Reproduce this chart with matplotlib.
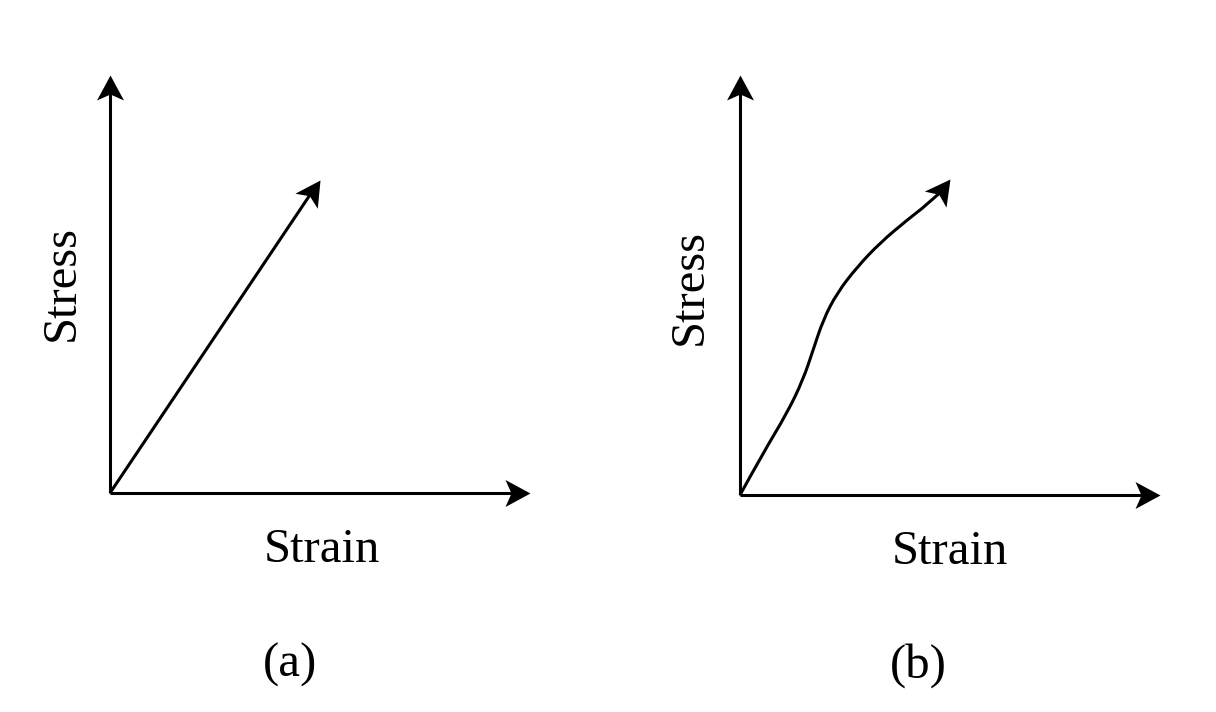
import numpy as np
import matplotlib.pyplot as plt
from matplotlib.path import Path
from matplotlib.patches import PathPatch
from matplotlib.markers import MarkerStyle
from matplotlib.transforms import Affine2D

plt.rcParams['font.family'] = ['Liberation Serif', 'DejaVu Serif']

# panel (a): linear stress-strain
strain_a = [0.0, 0.5]
stress_a = [0.0, 0.749]

# panel (b): nonlinear stress-strain
strain_b = [0.0, 0.055, 0.112, 0.15, 0.174, 0.198, 0.231, 0.279, 0.333, 0.398, 0.469, 0.5]
stress_b = [0.0, 0.10, 0.195, 0.274, 0.345, 0.417, 0.481, 0.543, 0.60, 0.655, 0.71, 0.752]

x_label = 'Strain'
y_label = 'Stress'
panel_labels = ['(a)', '(b)']

W, H = 1216, 712
fig = plt.figure(figsize=(W / 100, H / 100), dpi=100)
LW = 2.2
HEAD_LEN = 25   # px

# stealth-like arrow head, tip at origin, pointing along +x (pixels)
head_verts = [(0, 0), (-HEAD_LEN, 13.5), (-HEAD_LEN + 6, 0), (-HEAD_LEN, -13.5), (0, 0)]
head_codes = [Path.MOVETO, Path.LINETO, Path.LINETO, Path.LINETO, Path.CLOSEPOLY]
head_path = Path(head_verts, head_codes)


def arrow_head(ax, p_from, p_to):
    a = ax.transData.transform(p_from)
    b = ax.transData.transform(p_to)
    ang = np.degrees(np.arctan2(b[1] - a[1], b[0] - a[0]))
    m = MarkerStyle(head_path, transform=Affine2D().rotate_deg(ang))
    ax.plot([p_to[0]], [p_to[1]], marker=m, markersize=2 * HEAD_LEN * 0.72, color='black',
            markeredgewidth=0, linestyle='none', clip_on=False)


def shorten(ax, p_from, p_to, px):
    a = ax.transData.transform(p_from)
    b = ax.transData.transform(p_to)
    d = b - a
    b2 = b - d / np.hypot(*d) * px
    return ax.transData.inverted().transform(b2)


def line_arrow(ax, xs, ys):
    end = shorten(ax, (xs[-2], ys[-2]), (xs[-1], ys[-1]), HEAD_LEN - 8)
    ax.plot(list(xs[:-1]) + [end[0]], list(ys[:-1]) + [end[1]], color='black', lw=LW,
            solid_capstyle='butt', clip_on=False)
    arrow_head(ax, (xs[-2], ys[-2]), (xs[-1], ys[-1]))


def draw_axes(ax):
    ax.set_xlim(0, 1)
    ax.set_ylim(0, 1)
    ax.set_axis_off()
    line_arrow(ax, [0, 1], [0, 0])
    line_arrow(ax, [0, 0], [0, 1])


# (a)
ax1 = fig.add_axes([110 / W, (H - 493) / H, 420 / W, 418 / H])
draw_axes(ax1)
line_arrow(ax1, strain_a, stress_a)
ax1.text(-0.114, 0.502, y_label, rotation=90, fontsize=35, ha='center', va='center',
         transform=ax1.transAxes)
ax1.text(0.505, -0.136, x_label, fontsize=35, ha='center', va='center', transform=ax1.transAxes)
ax1.text(0.429, -0.411, panel_labels[0], fontsize=35, ha='center', va='center',
         transform=ax1.transAxes)

# (b)
ax2 = fig.add_axes([740 / W, (H - 495) / H, 420 / W, 420 / H])
draw_axes(ax2)
# smooth curve: quadratic bezier using the read points as control points
pts = list(zip(strain_b[:-1], stress_b[:-1]))
verts = [pts[0]]
codes = [Path.MOVETO]
for i in range(1, len(pts) - 1):
    mid = ((pts[i][0] + pts[i + 1][0]) / 2, (pts[i][1] + pts[i + 1][1]) / 2)
    verts += [pts[i], mid]
    codes += [Path.CURVE3, Path.CURVE3]
verts.append(tuple(shorten(ax2, (strain_b[-2], stress_b[-2]), (strain_b[-1], stress_b[-1]),
                           HEAD_LEN - 8)))
codes.append(Path.LINETO)
ax2.add_patch(PathPatch(Path(verts, codes), facecolor='none', edgecolor='black', lw=LW,
                        capstyle='butt', clip_on=False))
arrow_head(ax2, (strain_b[-2], stress_b[-2]), (strain_b[-1], stress_b[-1]))
ax2.text(-0.119, 0.495, y_label, rotation=90, fontsize=35, ha='center', va='center',
         transform=ax2.transAxes)
ax2.text(0.5, -0.136, x_label, fontsize=35, ha='center', va='center', transform=ax2.transAxes)
ax2.text(0.424, -0.405, panel_labels[1], fontsize=35, ha='center', va='center',
         transform=ax2.transAxes)

fig.savefig('out.png', dpi=100)
